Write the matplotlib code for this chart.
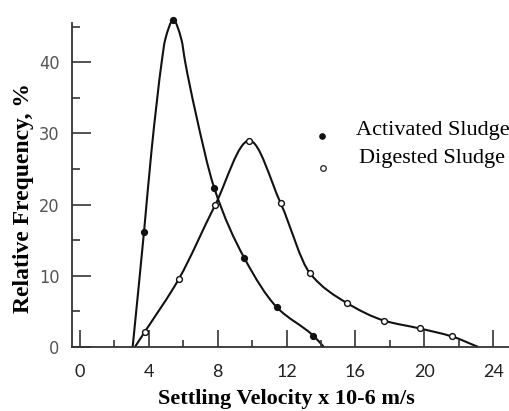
import numpy as np
import matplotlib.pyplot as plt
from matplotlib.path import Path
from matplotlib.patches import PathPatch

# curve traces (settling velocity, relative frequency %)
act_line_x = [3.07, 3.73, 4.17, 4.77, 4.95, 5.43, 5.91, 6.10, 6.69, 7.81, 9.55, 11.43, 13.55, 14.17]
act_line_y = [0, 16.2, 27.7, 40.3, 43.1, 45.9, 43.1, 40.3, 33.3, 22.3, 12.5, 5.6, 1.6, 0]
act_pts_x = [3.73, 5.43, 7.81, 9.55, 11.43, 13.55]
act_pts_y = [16.2, 45.9, 22.3, 12.5, 5.6, 1.6]

dig_line_x = [3.2, 3.78, 5.76, 7.85, 9.84, 11.66, 13.36, 15.49, 17.67, 19.74, 21.58, 23.13]
dig_line_y = [0, 2.15, 9.6, 19.9, 29.0, 20.2, 10.35, 6.2, 3.7, 2.6, 1.5, 0]
dig_pts_x = dig_line_x[1:-1]
dig_pts_y = dig_line_y[1:-1]

x_ticks = [0, 4, 8, 12, 16, 20, 24]
y_ticks = [0, 10, 20, 30, 40]


def smooth_path(xs, ys):
    # monotone cubic (Fritsch-Carlson) tangents -> bezier segments
    x = np.asarray(xs, float)
    y = np.asarray(ys, float)
    h = np.diff(x)
    d = np.diff(y) / h
    m = np.zeros_like(y)
    m[0], m[-1] = d[0], d[-1]
    for i in range(1, len(x) - 1):
        if d[i - 1] * d[i] > 0:
            w1 = 2 * h[i] + h[i - 1]
            w2 = h[i] + 2 * h[i - 1]
            m[i] = (w1 + w2) / (w1 / d[i - 1] + w2 / d[i])
    verts = [(x[0], y[0])]
    codes = [Path.MOVETO]
    for i in range(len(x) - 1):
        verts += [(x[i] + h[i] / 3, y[i] + m[i] * h[i] / 3),
                  (x[i + 1] - h[i] / 3, y[i + 1] - m[i + 1] * h[i] / 3),
                  (x[i + 1], y[i + 1])]
        codes += [Path.CURVE4] * 3
    return Path(verts, codes)


fig = plt.figure(figsize=(5.1, 4.11), dpi=100)
ax = fig.add_axes([72 / 510, 64 / 411, 438 / 510, 331 / 411])

for xs, ys in [(act_line_x, act_line_y), (dig_line_x, dig_line_y)]:
    ax.add_patch(PathPatch(smooth_path(xs, ys), fill=False, lw=1.5,
                           ec='#111111', clip_on=False))

ax.plot(act_pts_x, act_pts_y, 'o', ms=4.2, color='#111111', clip_on=False,
        label='Activated Sludge')
ax.plot(dig_pts_x, dig_pts_y, 'o', ms=4.2, mfc='white', mec='#111111', mew=1,
        clip_on=False, label='Digested Sludge')

ax.set_xlim(-0.45, 24.97)
ax.set_ylim(0, 46.5)

for s in ['top', 'right']:
    ax.spines[s].set_visible(False)
ax.spines['left'].set_bounds(0, 45.5)
for s in ['left', 'bottom']:
    ax.spines[s].set_color('#333333')
    ax.spines[s].set_linewidth(1.3)

ax.set_xticks(x_ticks)
ax.set_xticks([2, 6, 10, 14, 18, 22], minor=True)
ax.set_yticks(y_ticks)
ax.set_yticks([5, 15, 25, 35, 45], minor=True)
ax.tick_params(axis='x', which='major', direction='in', length=12, width=1.2,
               color='#333333', pad=12, labelsize=13, labelcolor='#222222')
ax.tick_params(axis='x', which='minor', direction='in', length=5, width=1.2,
               color='#333333')
ax.tick_params(axis='y', which='major', direction='in', length=14, width=1.3,
               color='#444444', pad=9, labelsize=13, labelcolor='#555555')
ax.tick_params(axis='y', which='minor', direction='in', length=6, width=1.3,
               color='#444444')
for lab in ax.get_xticklabels():
    lab.set_family(['Lato', 'DejaVu Sans'])
for lab in ax.get_yticklabels():
    lab.set_family('DejaVu Sans')
    lab.set_fontstretch('condensed')

fig.text(286 / 510, 1 - 399 / 411, 'Settling Velocity x 10-6 m/s',
         family='Liberation Serif', weight='bold', fontsize=16,
         ha='center', va='center')
fig.text(24 / 510, 1 - 198 / 411, 'Relative Frequency, %',
         family='Liberation Serif', weight='bold', fontsize=17,
         ha='center', va='center', rotation=90)

# hand-placed legend, as in the scan
ax.plot([322 / 510], [1 - 136 / 411], 'o', ms=3.8, color='#111111',
        transform=fig.transFigure, clip_on=False)
ax.plot([323 / 510], [1 - 168 / 411], 'o', ms=4, mfc='white', mec='#333333',
        mew=1, transform=fig.transFigure, clip_on=False)
fig.text(356 / 510, 1 - 135 / 411, 'Activated Sludge', family='Liberation Serif',
         fontsize=16, va='baseline')
fig.text(359 / 510, 1 - 163 / 411, 'Digested Sludge', family='Liberation Serif',
         fontsize=16, va='baseline')

fig.savefig('out.png', dpi=100)
